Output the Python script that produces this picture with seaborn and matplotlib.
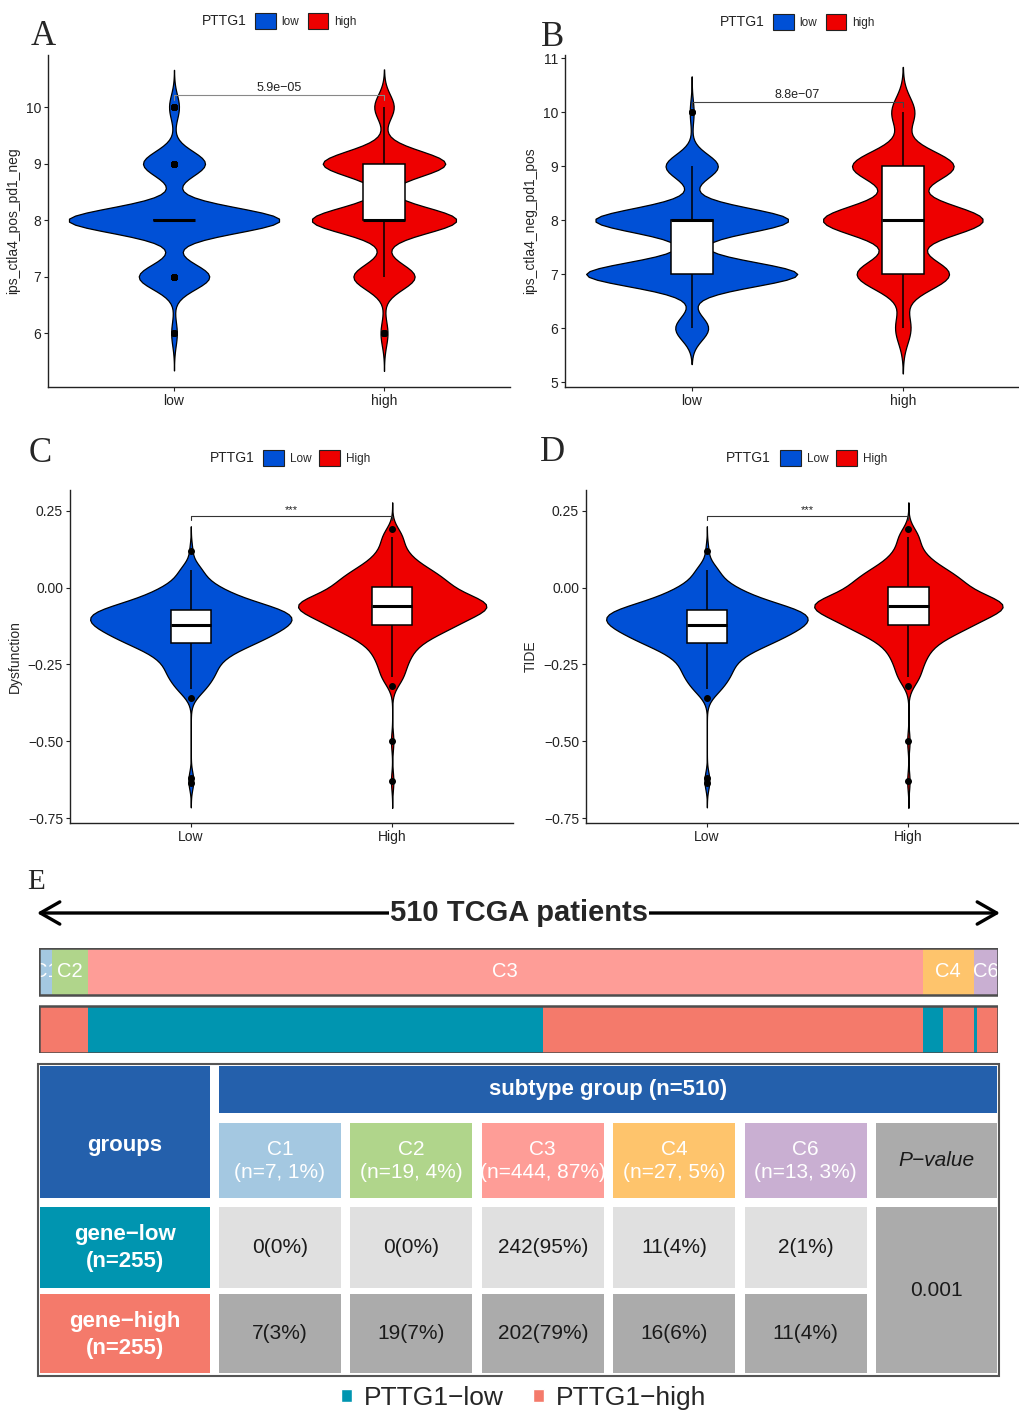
import numpy as np
import pandas as pd
import matplotlib
matplotlib.use("Agg")
import matplotlib.pyplot as plt
import seaborn as sns
from matplotlib.patches import Patch, Rectangle
from matplotlib.ticker import FuncFormatter

# ---------------- data ----------------
# panel A / B : IPS scores are integers -> number of patients per score
ips_scores = [6, 7, 8, 9, 10]
ipsA_low_counts = [4, 50, 150, 44, 7]
ipsA_high_counts = [5, 44, 104, 88, 14]
ipsB_low_counts = [17, 109, 100, 27, 2]
ipsB_high_counts = [10, 60, 104, 66, 15]

# panel C / D : continuous scores. core values each stand for 6 patients,
# outliers are single patients
dys_low_core = [-0.33, -0.30, -0.28, -0.26, -0.24, -0.225, -0.21, -0.20, -0.19, -0.18,
                -0.175, -0.168, -0.160, -0.154, -0.148, -0.142, -0.136, -0.130, -0.125, -0.12,
                -0.116, -0.111, -0.106, -0.101, -0.096, -0.091, -0.086, -0.081, -0.077, -0.073,
                -0.068, -0.062, -0.055, -0.047, -0.038, -0.028, -0.016, -0.002, 0.02, 0.058]
dys_low_out = [0.121, -0.36, -0.62, -0.636]
dys_high_core = [-0.29, -0.25, -0.22, -0.195, -0.175, -0.16, -0.148, -0.138, -0.13, -0.122,
                 -0.115, -0.108, -0.10, -0.093, -0.086, -0.08, -0.075, -0.07, -0.065, -0.06,
                 -0.057, -0.053, -0.049, -0.044, -0.039, -0.033, -0.026, -0.019, -0.01, 0.0,
                 0.008, 0.016, 0.025, 0.035, 0.045, 0.056, 0.07, 0.09, 0.12, 0.165]
dys_high_out = [0.191, -0.32, -0.50, -0.63]
tide_low_core, tide_low_out = dys_low_core, dys_low_out
tide_high_core, tide_high_out = dys_high_core, dys_high_out

# panel E
subtypes = ["C1", "C2", "C3", "C4", "C6"]
sub_low = [0, 0, 242, 11, 2]
sub_high = [7, 19, 202, 16, 11]
p_value = "0.001"

BLUE, RED = "#0050D6", "#EE0000"
TEAL, SALMON = "#0095B0", "#F47A6B"
sub_colors = ["#A4C8E1", "#B0D58B", "#FE9D97", "#FEC46C", "#C9AFD2"]
W, H = 1020, 1411

sns.set_style("ticks")
plt.rcParams["font.family"] = ["Liberation Sans", "DejaVu Sans"]

fig = plt.figure(figsize=(W / 100, H / 100), dpi=100)


def nrd0(kde):
    # R's default bandwidth (bw.nrd0) expressed as a scipy kde factor
    x = kde.dataset[0]
    sd = np.std(x, ddof=1)
    q1, q3 = np.percentile(x, [25, 75])
    lo = min(sd, (q3 - q1) / 1.34) or sd
    return 0.9 * lo * len(x) ** -0.2 / sd


def px_axes(x0, y0, x1, y1):
    return fig.add_axes([x0 / W, 1 - y1 / H, (x1 - x0) / W, (y1 - y0) / H])


def violin_panel(ax, low, high, labels, ylab, ylim, xlim, yticks, fmt, bw_method, bw):
    df = pd.DataFrame({"grp": [labels[0]] * len(low) + [labels[1]] * len(high),
                       "val": np.concatenate([low, high])})
    sns.violinplot(data=df, x="grp", y="val", hue="grp", order=labels, hue_order=labels,
                   palette=[BLUE, RED], inner=None, cut=3, width=1.0, bw_method=bw_method,
                   bw_adjust=bw, common_norm=True, linewidth=0.9, linecolor="black",
                   saturation=1, legend=False, ax=ax)
    sns.boxplot(data=df, x="grp", y="val", order=labels, width=0.2, color="white",
                saturation=1, linecolor="black", linewidth=1.1, showcaps=False,
                flierprops=dict(marker="o", markerfacecolor="black", markeredgecolor="black",
                                markersize=4),
                medianprops=dict(linewidth=2.2), ax=ax)
    ax.set_xlim(*xlim)
    ax.set_ylim(*ylim)
    ax.set_yticks(yticks)
    ax.yaxis.set_major_formatter(FuncFormatter(lambda v, p: fmt.format(v).replace("-", "\u2212")))
    ax.set_xlabel("")
    ax.set_ylabel(ylab, fontsize=10, labelpad=4)
    sns.despine(ax=ax)
    for s in ["left", "bottom"]:
        ax.spines[s].set_linewidth(1.0)
        ax.spines[s].set_color("#222222")
    ax.tick_params(length=3, width=0.8, labelsize=10, colors="#222222", pad=2)


def bracket(ax, y, tip, text, size, color):
    ax.plot([0, 0, 1, 1], [y - tip, y, y, y - tip], color=color, lw=0.8)
    ax.text(0.5, y + tip * 0.2, text, ha="center", va="bottom", fontsize=size, color="#222222")


# A
axA = px_axes(48, 55, 510, 387)
violin_panel(axA, np.repeat(ips_scores, ipsA_low_counts), np.repeat(ips_scores, ipsA_high_counts),
             ["low", "high"], "ips_ctla4_pos_pd1_neg", (5.05, 10.92), (-0.6, 1.6),
             [6, 7, 8, 9, 10], "{:.0f}", nrd0, 1.0)
bracket(axA, 10.21, 0.09, "5.9e\u221205", 9, "#888888")

# B
axB = px_axes(565, 55, 1020, 387)
violin_panel(axB, np.repeat(ips_scores, ipsB_low_counts), np.repeat(ips_scores, ipsB_high_counts),
             ["low", "high"], "ips_ctla4_neg_pd1_pos", (4.91, 11.06), (-0.6, 1.555),
             [5, 6, 7, 8, 9, 10, 11], "{:.0f}", nrd0, 1.0)
bracket(axB, 10.19, 0.09, "8.8e\u221207", 9, "#444444")

# C
axC = px_axes(70, 490, 513, 823)
violin_panel(axC, np.concatenate([np.repeat(dys_low_core, 6), dys_low_out]),
             np.concatenate([np.repeat(dys_high_core, 6), dys_high_out]),
             ["Low", "High"], "Dysfunction", (-0.766, 0.318), (-0.6, 1.6),
             [-0.75, -0.5, -0.25, 0.0, 0.25], "{:.2f}", "scott", 0.8)
bracket(axC, 0.234, 0.014, "***", 8, "#333333")

# D
axD = px_axes(586, 490, 1020, 823)
violin_panel(axD, np.concatenate([np.repeat(tide_low_core, 6), tide_low_out]),
             np.concatenate([np.repeat(tide_high_core, 6), tide_high_out]),
             ["Low", "High"], "TIDE", (-0.766, 0.318), (-0.6, 1.554),
             [-0.75, -0.5, -0.25, 0.0, 0.25], "{:.2f}", "scott", 0.8)
bracket(axD, 0.234, 0.014, "***", 8, "#333333")

# E : patient strips
sax = px_axes(39, 948, 998, 1053)
left = 0
for i, (name, lo, hi, col) in enumerate(zip(subtypes, sub_low, sub_high, sub_colors)):
    n = lo + hi
    sax.barh(0, n, left=left, height=0.81, color=col, linewidth=0, zorder=2 * i + 1)
    sax.text(left + n / 2, 0, name, color="white", ha="center", va="center",
             fontsize=14.5, zorder=2 * i + 2, clip_on=True)
    left += n
left = 0
for lo, hi in zip(sub_low, sub_high):
    for n, col in [(lo, TEAL), (hi, SALMON)]:
        if n:
            sax.barh(1, n, left=left, height=0.81, color=col, linewidth=0, zorder=1)
            left += n
total = sum(sub_low) + sum(sub_high)
sax.barh([0, 1], [total, total], height=0.81, fill=False, edgecolor="#4d4d4d",
         linewidth=1.8, zorder=30)
sax.set_xlim(0, total)
sax.set_ylim(1.405, -0.405)
sax.axis("off")

# overlay in pixel coordinates for labels, legends and the table
ov = fig.add_axes([0, 0, 1, 1])
ov.set_xlim(0, W)
ov.set_ylim(H, 0)
ov.axis("off")

for letter, x, y, fs in [("A", 31, 45, 25), ("B", 541, 46, 25), ("C", 29, 462, 25),
                         ("D", 540, 461, 25), ("E", 27, 889, 21)]:
    ov.text(x, y, letter, fontsize=fs, family="Liberation Serif", va="baseline", ha="left")


def top_legend(x_text, x_box, y, labels):
    ov.text(x_text, y, "PTTG1", ha="right", va="center", fontsize=10, color="#222222")
    handles = [Patch(facecolor=BLUE, edgecolor="#222222", lw=0.8),
               Patch(facecolor=RED, edgecolor="#222222", lw=0.8)]
    fig.legend(handles, labels, loc="center left", bbox_to_anchor=(x_box / W, 1 - y / H),
               ncol=2, frameon=False, fontsize=8.5, handlelength=1.75, handleheight=1.75,
               handletextpad=0.5, columnspacing=0.7, borderpad=0, borderaxespad=0)


top_legend(247, 255, 21, ["low", "high"])
top_legend(765, 773, 22, ["low", "high"])
top_legend(255, 263, 458, ["Low", "High"])
top_legend(771, 780, 458, ["Low", "High"])

ov.annotate("", xy=(1000, 913), xytext=(37, 913),
            arrowprops=dict(arrowstyle="<->,head_length=1.4,head_width=0.8", lw=2.4,
                            color="black", shrinkA=0, shrinkB=0))
ov.text(519, 913, "510 TCGA patients", fontsize=21, fontweight="bold", ha="center",
        va="center", bbox=dict(facecolor="white", edgecolor="none", pad=1))


def cell(x0, y0, x1, y1, color, text="", tcolor="white", ty=None, **kw):
    ov.add_patch(Rectangle((x0, y0), x1 - x0, y1 - y0, facecolor=color, edgecolor="none"))
    if text:
        ov.text((x0 + x1) / 2, (y0 + y1) / 2 if ty is None else ty, text, ha="center",
                va="center", color=tcolor, **kw)


ov.add_patch(Rectangle((38, 1064), 961, 312, facecolor="white", edgecolor="#555555", lw=1.5))
cell(40, 1066, 210, 1198, "#2460AC", "groups", ty=1145, fontsize=16, fontweight="bold")
cell(219, 1066, 997, 1113, "#2460AC", "subtype group (n=%d)" % total, fontsize=16,
     fontweight="bold")
n_low, n_high = sum(sub_low), sum(sub_high)
cell(40, 1207, 210, 1288, TEAL, "gene\u2212low\n(n=%d)" % n_low, ty=1248, fontsize=16,
     fontweight="bold", linespacing=1.35)
cell(40, 1294, 210, 1373, SALMON, "gene\u2212high\n(n=%d)" % n_high, ty=1335, fontsize=16,
     fontweight="bold", linespacing=1.35)
step, cw = 131.4, 122
for i, (name, lo, hi, col) in enumerate(zip(subtypes, sub_low, sub_high, sub_colors)):
    x0 = 219 + i * step
    n = lo + hi
    cell(x0, 1123, x0 + cw, 1198, col, "%s\n(n=%d, %d%%)" % (name, n, round(100 * n / total)),
         ty=1161, fontsize=15, linespacing=1.3)
    cell(x0, 1207, x0 + cw, 1288, "#E0E0E0", "%d(%d%%)" % (lo, round(100 * lo / n_low)),
         tcolor="#1a1a1a", fontsize=15)
    cell(x0, 1294, x0 + cw, 1373, "#ABABAB", "%d(%d%%)" % (hi, round(100 * hi / n_high)),
         tcolor="#1a1a1a", fontsize=15)
px0 = 219 + 5 * step
cell(px0, 1123, 997, 1198, "#ABABAB", "P\u2212value", tcolor="#1a1a1a", fontsize=15,
     style="italic")
cell(px0, 1207, 997, 1373, "#ABABAB", p_value, tcolor="#1a1a1a", fontsize=15)

fig.legend([Patch(facecolor=TEAL), Patch(facecolor=SALMON)],
           ["PTTG1\u2212low", "PTTG1\u2212high"], loc="center",
           bbox_to_anchor=(524 / W, 1 - 1398 / H), ncol=2, frameon=False, fontsize=19,
           handlelength=0.42, handleheight=0.42, handletextpad=0.45, columnspacing=1.1,
           borderpad=0, borderaxespad=0)

fig.savefig("out.png", dpi=100)
